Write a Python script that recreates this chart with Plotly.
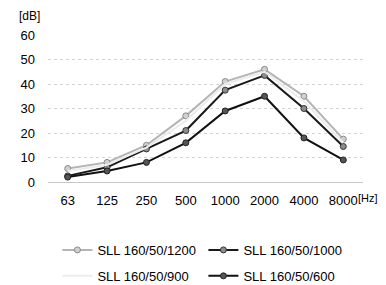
import plotly.graph_objects as go

freqs = ["63", "125", "250", "500", "1000", "2000", "4000", "8000"]
s1200 = [5.5, 8, 15, 27, 41, 46, 35, 17.5]
s1000 = [2.5, 6, 13.5, 21, 37.5, 43.5, 30, 14.5]
s900 = [4.5, 7, 14, 25, 40, 45, 33, 16]
s600 = [2, 4.5, 8, 16, 29, 35, 18, 9]
names = ["SLL 160/50/1200", "SLL 160/50/1000", "SLL 160/50/900", "SLL 160/50/600"]

fig = go.Figure()
fig.add_trace(go.Scatter(x=freqs, y=s1200, name=names[0], mode="lines+markers",
                         line=dict(color="#b4b4b4", width=2),
                         marker=dict(size=6, color="#d0d0d0", line=dict(color="#8a8a8a", width=1)),
                         cliponaxis=False, legend="legend"))
fig.add_trace(go.Scatter(x=freqs, y=s1000, name=names[1], mode="lines+markers",
                         line=dict(color="#1a1a1a", width=2),
                         marker=dict(size=6, color="#8c8c8c", line=dict(color="#333333", width=1)),
                         cliponaxis=False, legend="legend"))
fig.add_trace(go.Scatter(x=freqs, y=s900, name=names[2], mode="lines",
                         line=dict(color="#ececec", width=2),
                         cliponaxis=False, legend="legend2"))
fig.add_trace(go.Scatter(x=freqs, y=s600, name=names[3], mode="lines+markers",
                         line=dict(color="#111111", width=2),
                         marker=dict(size=6, color="#555555", line=dict(color="#222222", width=1)),
                         cliponaxis=False, legend="legend2"))

leg_common = dict(orientation="h", xref="container", yref="container",
                  x=0.128, xanchor="left", yanchor="middle",
                  entrywidth=101, font=dict(size=13, color="#000"), bgcolor="rgba(0,0,0,0)")

fig.update_layout(
    width=386, height=285,
    margin=dict(l=40, r=31, t=27, b=111, autoexpand=False),
    paper_bgcolor="white", plot_bgcolor="white",
    font=dict(family="Liberation Sans, Arial, sans-serif", size=13, color="#000"),
    showlegend=True,
    legend=dict(y=0.151, **leg_common),
    legend2=dict(y=0.060, **leg_common),
    xaxis=dict(type="category", range=[-0.5, 7.5], showgrid=False, zeroline=False,
               showline=False, ticks="", ticklabelstandoff=9, tickfont=dict(size=13)),
    yaxis=dict(range=[0, 60], dtick=10, showgrid=True, gridcolor="#d4d4d4",
               griddash="dot", gridwidth=1, zeroline=True, zerolinecolor="#c8c8c8",
               zerolinewidth=1, showline=False, ticks="", ticklabelstandoff=12,
               tickfont=dict(size=13)),
    annotations=[
        dict(text="[dB]", xref="paper", yref="paper", x=-0.098, y=1.129, xanchor="left",
             yanchor="middle", showarrow=False, font=dict(size=12)),
        dict(text="[Hz]", xref="paper", yref="paper", x=0.978, y=-0.055, xanchor="left",
             yanchor="top", showarrow=False, font=dict(size=11)),
    ],
)

fig.write_html("out.html")
